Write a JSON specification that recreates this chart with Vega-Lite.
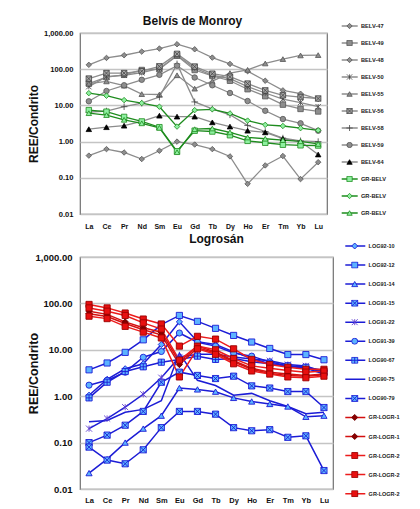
{
"$schema": "https://vega.github.io/schema/vega-lite/v6.json",
"background": "white",
"padding": {"left": 26, "top": 14, "right": 5, "bottom": 0},
"config": {"font": "Liberation Sans", "view": {"stroke": "#707070", "strokeWidth": 1.2}},
"spacing": 2,
"align": "none",
"center": true,
"resolve": {"scale": {"color": "independent", "shape": "independent", "fill": "independent", "stroke": "independent", "x": "independent", "y": "independent"}, "legend": {"color": "independent", "shape": "independent", "fill": "independent", "stroke": "independent"}},
"datasets": {
"belv": [
{"s":"BELV-47","e":"La","v":132},{"s":"BELV-47","e":"Ce","v":205},{"s":"BELV-47","e":"Pr","v":243},{"s":"BELV-47","e":"Nd","v":306},{"s":"BELV-47","e":"Sm","v":371},{"s":"BELV-47","e":"Eu","v":490},{"s":"BELV-47","e":"Gd","v":355},{"s":"BELV-47","e":"Tb","v":209},{"s":"BELV-47","e":"Dy","v":140},{"s":"BELV-47","e":"Ho","v":88},{"s":"BELV-47","e":"Er","v":48},{"s":"BELV-47","e":"Tm","v":26},{"s":"BELV-47","e":"Yb","v":21},{"s":"BELV-47","e":"Lu","v":15},
{"s":"BELV-49","e":"La","v":40},{"s":"BELV-49","e":"Ce","v":60},{"s":"BELV-49","e":"Pr","v":70},{"s":"BELV-49","e":"Nd","v":95},{"s":"BELV-49","e":"Sm","v":100},{"s":"BELV-49","e":"Eu","v":235},{"s":"BELV-49","e":"Gd","v":95},{"s":"BELV-49","e":"Tb","v":65},{"s":"BELV-49","e":"Dy","v":48},{"s":"BELV-49","e":"Ho","v":28},{"s":"BELV-49","e":"Er","v":18},{"s":"BELV-49","e":"Tm","v":10.5},{"s":"BELV-49","e":"Yb","v":8},{"s":"BELV-49","e":"Lu","v":6.8},
{"s":"BELV-48","e":"La","v":0.41},{"s":"BELV-48","e":"Ce","v":0.62},{"s":"BELV-48","e":"Pr","v":0.5},{"s":"BELV-48","e":"Nd","v":0.33},{"s":"BELV-48","e":"Sm","v":0.56},{"s":"BELV-48","e":"Eu","v":1.0},{"s":"BELV-48","e":"Gd","v":0.83},{"s":"BELV-48","e":"Tb","v":0.62},{"s":"BELV-48","e":"Dy","v":0.39},{"s":"BELV-48","e":"Ho","v":0.068},{"s":"BELV-48","e":"Er","v":0.22},{"s":"BELV-48","e":"Tm","v":0.4},{"s":"BELV-48","e":"Yb","v":0.092},{"s":"BELV-48","e":"Lu","v":0.27},
{"s":"BELV-50","e":"La","v":33},{"s":"BELV-50","e":"Ce","v":62},{"s":"BELV-50","e":"Pr","v":68},{"s":"BELV-50","e":"Nd","v":80},{"s":"BELV-50","e":"Sm","v":105},{"s":"BELV-50","e":"Eu","v":240},{"s":"BELV-50","e":"Gd","v":108},{"s":"BELV-50","e":"Tb","v":68},{"s":"BELV-50","e":"Dy","v":55},{"s":"BELV-50","e":"Ho","v":33},{"s":"BELV-50","e":"Er","v":22},{"s":"BELV-50","e":"Tm","v":15},{"s":"BELV-50","e":"Yb","v":12},{"s":"BELV-50","e":"Lu","v":9.2},
{"s":"BELV-55","e":"La","v":40},{"s":"BELV-55","e":"Ce","v":46},{"s":"BELV-55","e":"Pr","v":35},{"s":"BELV-55","e":"Nd","v":20.5},{"s":"BELV-55","e":"Sm","v":20},{"s":"BELV-55","e":"Eu","v":68},{"s":"BELV-55","e":"Gd","v":29},{"s":"BELV-55","e":"Tb","v":47},{"s":"BELV-55","e":"Dy","v":78},{"s":"BELV-55","e":"Ho","v":96},{"s":"BELV-55","e":"Er","v":144},{"s":"BELV-55","e":"Tm","v":190},{"s":"BELV-55","e":"Yb","v":240},{"s":"BELV-55","e":"Lu","v":245},
{"s":"BELV-56","e":"La","v":55},{"s":"BELV-56","e":"Ce","v":78},{"s":"BELV-56","e":"Pr","v":78},{"s":"BELV-56","e":"Nd","v":88},{"s":"BELV-56","e":"Sm","v":120},{"s":"BELV-56","e":"Eu","v":265},{"s":"BELV-56","e":"Gd","v":118},{"s":"BELV-56","e":"Tb","v":75},{"s":"BELV-56","e":"Dy","v":62},{"s":"BELV-56","e":"Ho","v":40},{"s":"BELV-56","e":"Er","v":26},{"s":"BELV-56","e":"Tm","v":19},{"s":"BELV-56","e":"Yb","v":17},{"s":"BELV-56","e":"Lu","v":15.5},
{"s":"BELV-58","e":"La","v":6.5},{"s":"BELV-58","e":"Ce","v":7},{"s":"BELV-58","e":"Pr","v":9.2},{"s":"BELV-58","e":"Nd","v":11.5},{"s":"BELV-58","e":"Sm","v":17},{"s":"BELV-58","e":"Eu","v":140},{"s":"BELV-58","e":"Gd","v":12.5},{"s":"BELV-58","e":"Tb","v":8},{"s":"BELV-58","e":"Dy","v":5.5},{"s":"BELV-58","e":"Ho","v":2.8},{"s":"BELV-58","e":"Er","v":1.9},{"s":"BELV-58","e":"Tm","v":1.25},{"s":"BELV-58","e":"Yb","v":1.05},{"s":"BELV-58","e":"Lu","v":1.0},
{"s":"BELV-59","e":"La","v":13},{"s":"BELV-59","e":"Ce","v":25},{"s":"BELV-59","e":"Pr","v":36},{"s":"BELV-59","e":"Nd","v":51},{"s":"BELV-59","e":"Sm","v":70},{"s":"BELV-59","e":"Eu","v":125},{"s":"BELV-59","e":"Gd","v":59},{"s":"BELV-59","e":"Tb","v":36},{"s":"BELV-59","e":"Dy","v":22},{"s":"BELV-59","e":"Ho","v":13.2},{"s":"BELV-59","e":"Er","v":7.1},{"s":"BELV-59","e":"Tm","v":4.2},{"s":"BELV-59","e":"Yb","v":3.2},{"s":"BELV-59","e":"Lu","v":2.0},
{"s":"BELV-64","e":"La","v":2.2},{"s":"BELV-64","e":"Ce","v":2.5},{"s":"BELV-64","e":"Pr","v":2.75},{"s":"BELV-64","e":"Nd","v":3.6},{"s":"BELV-64","e":"Sm","v":5.2},{"s":"BELV-64","e":"Eu","v":4.9},{"s":"BELV-64","e":"Gd","v":4.9},{"s":"BELV-64","e":"Tb","v":3.4},{"s":"BELV-64","e":"Dy","v":2.6},{"s":"BELV-64","e":"Ho","v":2.0},{"s":"BELV-64","e":"Er","v":1.8},{"s":"BELV-64","e":"Tm","v":1.2},{"s":"BELV-64","e":"Yb","v":1.0},{"s":"BELV-64","e":"Lu","v":0.44},
{"s":"GR-BELV|1","e":"La","v":7.4},{"s":"GR-BELV|1","e":"Ce","v":6.7},{"s":"GR-BELV|1","e":"Pr","v":4.8},{"s":"GR-BELV|1","e":"Nd","v":3.6},{"s":"GR-BELV|1","e":"Sm","v":2.5},{"s":"GR-BELV|1","e":"Eu","v":0.54},{"s":"GR-BELV|1","e":"Gd","v":2.0},{"s":"GR-BELV|1","e":"Tb","v":1.9},{"s":"GR-BELV|1","e":"Dy","v":1.5},{"s":"GR-BELV|1","e":"Ho","v":1.05},{"s":"GR-BELV|1","e":"Er","v":0.93},{"s":"GR-BELV|1","e":"Tm","v":0.82},{"s":"GR-BELV|1","e":"Yb","v":0.79},{"s":"GR-BELV|1","e":"Lu","v":0.78},
{"s":"GR-BELV|2","e":"La","v":21.8},{"s":"GR-BELV|2","e":"Ce","v":18.5},{"s":"GR-BELV|2","e":"Pr","v":14},{"s":"GR-BELV|2","e":"Nd","v":11.6},{"s":"GR-BELV|2","e":"Sm","v":9.2},{"s":"GR-BELV|2","e":"Eu","v":2.6},{"s":"GR-BELV|2","e":"Gd","v":7.4},{"s":"GR-BELV|2","e":"Tb","v":7.8},{"s":"GR-BELV|2","e":"Dy","v":6.0},{"s":"GR-BELV|2","e":"Ho","v":3.8},{"s":"GR-BELV|2","e":"Er","v":2.9},{"s":"GR-BELV|2","e":"Tm","v":2.7},{"s":"GR-BELV|2","e":"Yb","v":2.35},{"s":"GR-BELV|2","e":"Lu","v":2.05},
{"s":"GR-BELV|3","e":"La","v":6.1},{"s":"GR-BELV|3","e":"Ce","v":5.4},{"s":"GR-BELV|3","e":"Pr","v":4.0},{"s":"GR-BELV|3","e":"Nd","v":3.2},{"s":"GR-BELV|3","e":"Sm","v":2.4},{"s":"GR-BELV|3","e":"Eu","v":0.51},{"s":"GR-BELV|3","e":"Gd","v":2.2},{"s":"GR-BELV|3","e":"Tb","v":2.3},{"s":"GR-BELV|3","e":"Dy","v":1.8},{"s":"GR-BELV|3","e":"Ho","v":1.3},{"s":"GR-BELV|3","e":"Er","v":1.2},{"s":"GR-BELV|3","e":"Tm","v":1.1},{"s":"GR-BELV|3","e":"Yb","v":1.02},{"s":"GR-BELV|3","e":"Lu","v":0.86}
],
"logr": [
{"s":"LOG92-10","e":"La","v":1.05},{"s":"LOG92-10","e":"Ce","v":2.3},{"s":"LOG92-10","e":"Pr","v":3.9},{"s":"LOG92-10","e":"Nd","v":5.0},{"s":"LOG92-10","e":"Sm","v":13},{"s":"LOG92-10","e":"Eu","v":40},{"s":"LOG92-10","e":"Gd","v":15},{"s":"LOG92-10","e":"Tb","v":13},{"s":"LOG92-10","e":"Dy","v":9},{"s":"LOG92-10","e":"Ho","v":6.5},{"s":"LOG92-10","e":"Er","v":5},{"s":"LOG92-10","e":"Tm","v":4.5},{"s":"LOG92-10","e":"Yb","v":4.0},{"s":"LOG92-10","e":"Lu","v":3.0},
{"s":"LOG92-12","e":"La","v":3.7},{"s":"LOG92-12","e":"Ce","v":5.2},{"s":"LOG92-12","e":"Pr","v":8.8},{"s":"LOG92-12","e":"Nd","v":16.4},{"s":"LOG92-12","e":"Sm","v":35},{"s":"LOG92-12","e":"Eu","v":55},{"s":"LOG92-12","e":"Gd","v":41},{"s":"LOG92-12","e":"Tb","v":29},{"s":"LOG92-12","e":"Dy","v":20.4},{"s":"LOG92-12","e":"Ho","v":14.7},{"s":"LOG92-12","e":"Er","v":10.7},{"s":"LOG92-12","e":"Tm","v":7.9},{"s":"LOG92-12","e":"Yb","v":7.9},{"s":"LOG92-12","e":"Lu","v":6.1},
{"s":"LOG91-14","e":"La","v":0.022},{"s":"LOG91-14","e":"Ce","v":0.044},{"s":"LOG91-14","e":"Pr","v":0.1},{"s":"LOG91-14","e":"Nd","v":0.2},{"s":"LOG91-14","e":"Sm","v":0.38},{"s":"LOG91-14","e":"Eu","v":1.5},{"s":"LOG91-14","e":"Gd","v":1.4},{"s":"LOG91-14","e":"Tb","v":1.25},{"s":"LOG91-14","e":"Dy","v":0.92},{"s":"LOG91-14","e":"Ho","v":0.77},{"s":"LOG91-14","e":"Er","v":0.68},{"s":"LOG91-14","e":"Tm","v":0.6},{"s":"LOG91-14","e":"Yb","v":0.36},{"s":"LOG91-14","e":"Lu","v":0.38},
{"s":"LOG91-15","e":"La","v":0.1},{"s":"LOG91-15","e":"Ce","v":0.145},{"s":"LOG91-15","e":"Pr","v":0.237},{"s":"LOG91-15","e":"Nd","v":0.47},{"s":"LOG91-15","e":"Sm","v":2.0},{"s":"LOG91-15","e":"Eu","v":3.3},{"s":"LOG91-15","e":"Gd","v":2.8},{"s":"LOG91-15","e":"Tb","v":2.4},{"s":"LOG91-15","e":"Dy","v":2.7},{"s":"LOG91-15","e":"Ho","v":1.67},{"s":"LOG91-15","e":"Er","v":1.5},{"s":"LOG91-15","e":"Tm","v":1.26},{"s":"LOG91-15","e":"Yb","v":1.26},{"s":"LOG91-15","e":"Lu","v":0.57},
{"s":"LOG91-22","e":"La","v":0.2},{"s":"LOG91-22","e":"Ce","v":0.33},{"s":"LOG91-22","e":"Pr","v":0.58},{"s":"LOG91-22","e":"Nd","v":1.1},{"s":"LOG91-22","e":"Sm","v":2.5},{"s":"LOG91-22","e":"Eu","v":7},{"s":"LOG91-22","e":"Gd","v":8},{"s":"LOG91-22","e":"Tb","v":8},{"s":"LOG91-22","e":"Dy","v":7},{"s":"LOG91-22","e":"Ho","v":6.3},{"s":"LOG91-22","e":"Er","v":5.8},{"s":"LOG91-22","e":"Tm","v":4.8},{"s":"LOG91-22","e":"Yb","v":4.5},{"s":"LOG91-22","e":"Lu","v":3.3},
{"s":"LOG91-39","e":"La","v":1.73},{"s":"LOG91-39","e":"Ce","v":2.2},{"s":"LOG91-39","e":"Pr","v":3.3},{"s":"LOG91-39","e":"Nd","v":6.9},{"s":"LOG91-39","e":"Sm","v":9.2},{"s":"LOG91-39","e":"Eu","v":23},{"s":"LOG91-39","e":"Gd","v":14.6},{"s":"LOG91-39","e":"Tb","v":12},{"s":"LOG91-39","e":"Dy","v":8.5},{"s":"LOG91-39","e":"Ho","v":7.3},{"s":"LOG91-39","e":"Er","v":5.5},{"s":"LOG91-39","e":"Tm","v":4.5},{"s":"LOG91-39","e":"Yb","v":4.2},{"s":"LOG91-39","e":"Lu","v":3.6},
{"s":"LOG90-67","e":"La","v":0.92},{"s":"LOG90-67","e":"Ce","v":2.0},{"s":"LOG90-67","e":"Pr","v":3.4},{"s":"LOG90-67","e":"Nd","v":4.3},{"s":"LOG90-67","e":"Sm","v":5.4},{"s":"LOG90-67","e":"Eu","v":6.2},{"s":"LOG90-67","e":"Gd","v":7.3},{"s":"LOG90-67","e":"Tb","v":6.2},{"s":"LOG90-67","e":"Dy","v":6.5},{"s":"LOG90-67","e":"Ho","v":5.5},{"s":"LOG90-67","e":"Er","v":5.0},{"s":"LOG90-67","e":"Tm","v":4.5},{"s":"LOG90-67","e":"Yb","v":4.2},{"s":"LOG90-67","e":"Lu","v":3.2},
{"s":"LOG90-75","e":"La","v":0.28},{"s":"LOG90-75","e":"Ce","v":0.3},{"s":"LOG90-75","e":"Pr","v":0.45},{"s":"LOG90-75","e":"Nd","v":0.52},{"s":"LOG90-75","e":"Sm","v":0.8},{"s":"LOG90-75","e":"Eu","v":8.5},{"s":"LOG90-75","e":"Gd","v":2.2},{"s":"LOG90-75","e":"Tb","v":1.7},{"s":"LOG90-75","e":"Dy","v":1.05},{"s":"LOG90-75","e":"Ho","v":1.15},{"s":"LOG90-75","e":"Er","v":0.8},{"s":"LOG90-75","e":"Tm","v":0.6},{"s":"LOG90-75","e":"Yb","v":0.42},{"s":"LOG90-75","e":"Lu","v":0.45},
{"s":"LOG90-79","e":"La","v":0.08},{"s":"LOG90-79","e":"Ce","v":0.042},{"s":"LOG90-79","e":"Pr","v":0.035},{"s":"LOG90-79","e":"Nd","v":0.07},{"s":"LOG90-79","e":"Sm","v":0.21},{"s":"LOG90-79","e":"Eu","v":0.47},{"s":"LOG90-79","e":"Gd","v":0.47},{"s":"LOG90-79","e":"Tb","v":0.41},{"s":"LOG90-79","e":"Dy","v":0.21},{"s":"LOG90-79","e":"Ho","v":0.18},{"s":"LOG90-79","e":"Er","v":0.19},{"s":"LOG90-79","e":"Tm","v":0.13},{"s":"LOG90-79","e":"Yb","v":0.14},{"s":"LOG90-79","e":"Lu","v":0.025},
{"s":"GR-LOGR-1|1","e":"La","v":68},{"s":"GR-LOGR-1|1","e":"Ce","v":58},{"s":"GR-LOGR-1|1","e":"Pr","v":40},{"s":"GR-LOGR-1|1","e":"Nd","v":30},{"s":"GR-LOGR-1|1","e":"Sm","v":24},{"s":"GR-LOGR-1|1","e":"Eu","v":5.5},{"s":"GR-LOGR-1|1","e":"Gd","v":12},{"s":"GR-LOGR-1|1","e":"Tb","v":9},{"s":"GR-LOGR-1|1","e":"Dy","v":5.8},{"s":"GR-LOGR-1|1","e":"Ho","v":4.0},{"s":"GR-LOGR-1|1","e":"Er","v":3.3},{"s":"GR-LOGR-1|1","e":"Tm","v":3.0},{"s":"GR-LOGR-1|1","e":"Yb","v":2.8},{"s":"GR-LOGR-1|1","e":"Lu","v":3.0},
{"s":"GR-LOGR-1|2","e":"La","v":60},{"s":"GR-LOGR-1|2","e":"Ce","v":52},{"s":"GR-LOGR-1|2","e":"Pr","v":37},{"s":"GR-LOGR-1|2","e":"Nd","v":27},{"s":"GR-LOGR-1|2","e":"Sm","v":21},{"s":"GR-LOGR-1|2","e":"Eu","v":4.8},{"s":"GR-LOGR-1|2","e":"Gd","v":11},{"s":"GR-LOGR-1|2","e":"Tb","v":8.5},{"s":"GR-LOGR-1|2","e":"Dy","v":5.5},{"s":"GR-LOGR-1|2","e":"Ho","v":3.8},{"s":"GR-LOGR-1|2","e":"Er","v":3.1},{"s":"GR-LOGR-1|2","e":"Tm","v":2.8},{"s":"GR-LOGR-1|2","e":"Yb","v":2.7},{"s":"GR-LOGR-1|2","e":"Lu","v":2.9},
{"s":"GR-LOGR-2|1","e":"La","v":95},{"s":"GR-LOGR-2|1","e":"Ce","v":80},{"s":"GR-LOGR-2|1","e":"Pr","v":62},{"s":"GR-LOGR-2|1","e":"Nd","v":46},{"s":"GR-LOGR-2|1","e":"Sm","v":36},{"s":"GR-LOGR-2|1","e":"Eu","v":12},{"s":"GR-LOGR-2|1","e":"Gd","v":19.5},{"s":"GR-LOGR-2|1","e":"Tb","v":17},{"s":"GR-LOGR-2|1","e":"Dy","v":10.5},{"s":"GR-LOGR-2|1","e":"Ho","v":6.2},{"s":"GR-LOGR-2|1","e":"Er","v":4.8},{"s":"GR-LOGR-2|1","e":"Tm","v":4.2},{"s":"GR-LOGR-2|1","e":"Yb","v":3.8},{"s":"GR-LOGR-2|1","e":"Lu","v":3.8},
{"s":"GR-LOGR-2|2","e":"La","v":80},{"s":"GR-LOGR-2|2","e":"Ce","v":68},{"s":"GR-LOGR-2|2","e":"Pr","v":55},{"s":"GR-LOGR-2|2","e":"Nd","v":38},{"s":"GR-LOGR-2|2","e":"Sm","v":28},{"s":"GR-LOGR-2|2","e":"Eu","v":6},{"s":"GR-LOGR-2|2","e":"Gd","v":12},{"s":"GR-LOGR-2|2","e":"Tb","v":10},{"s":"GR-LOGR-2|2","e":"Dy","v":6.5},{"s":"GR-LOGR-2|2","e":"Ho","v":4.5},{"s":"GR-LOGR-2|2","e":"Er","v":4.0},{"s":"GR-LOGR-2|2","e":"Tm","v":3.6},{"s":"GR-LOGR-2|2","e":"Yb","v":3.3},{"s":"GR-LOGR-2|2","e":"Lu","v":3.5},
{"s":"GR-LOGR-2|3","e":"La","v":53},{"s":"GR-LOGR-2|3","e":"Ce","v":47},{"s":"GR-LOGR-2|3","e":"Pr","v":32},{"s":"GR-LOGR-2|3","e":"Nd","v":24},{"s":"GR-LOGR-2|3","e":"Sm","v":18},{"s":"GR-LOGR-2|3","e":"Eu","v":2.6},{"s":"GR-LOGR-2|3","e":"Gd","v":10.5},{"s":"GR-LOGR-2|3","e":"Tb","v":8},{"s":"GR-LOGR-2|3","e":"Dy","v":5},{"s":"GR-LOGR-2|3","e":"Ho","v":3.5},{"s":"GR-LOGR-2|3","e":"Er","v":3.0},{"s":"GR-LOGR-2|3","e":"Tm","v":2.6},{"s":"GR-LOGR-2|3","e":"Yb","v":2.5},{"s":"GR-LOGR-2|3","e":"Lu","v":2.7}
]
},
"vconcat": [
{
"width": 247, "height": 181,
"data": {"name": "belv"},
"title": {"text": "Belvís de Monroy", "fontSize": 12, "fontWeight": "bold", "font": "Liberation Sans", "color": "#111", "offset": -4.6, "dx": -11},
"encoding": {
"x": {"field": "e", "type": "ordinal", "sort": ["La","Ce","Pr","Nd","Sm","Eu","Gd","Tb","Dy","Ho","Er","Tm","Yb","Lu"], "scale": {"type": "point", "padding": 0.5},
"axis": {"title": null, "labelAngle": 0, "labelFontSize": 7, "labelFontWeight": "bold", "labelColor": "#111", "domain": false, "ticks": false, "labelPadding": 8, "grid": false}},
"y": {"field": "v", "type": "quantitative", "scale": {"type": "log", "domain": [0.01, 1000], "nice": false},
"axis": {"values": [0.01, 0.1, 1, 10, 100, 1000], "format": ",.2f", "title": "REE/Condrito", "titleFontSize": 12, "titleFontWeight": "bold", "titleColor": "#111", "titlePadding": 3, "labelFontSize": 7.6, "labelFontWeight": "bold", "labelColor": "#111", "labelPadding": 7, "ticks": false, "domain": false, "grid": true, "gridColor": "#c4c4c4", "gridWidth": 1.5}}
},
"layer": [
{"mark": {"type": "line", "strokeWidth": 1.3},
"encoding": {"color": {"field": "s", "type": "nominal",
"scale": {"domain": ["BELV-47","BELV-49","BELV-48","BELV-50","BELV-55","BELV-56","BELV-58","BELV-59","BELV-64","GR-BELV|1","GR-BELV|2","GR-BELV|3","~"],
"range": ["#8c8c8c","#8c8c8c","#8c8c8c","#8c8c8c","#8c8c8c","#8c8c8c","#8c8c8c","#8c8c8c","#8c8c8c","#1e8c1e","#1e8c1e","#1e8c1e","#ffffff"]},
"legend": {"orient": "none", "legendX": 260.7, "legendY": -10, "title": null, "values": ["BELV-47","BELV-49","BELV-48","BELV-50","BELV-55","BELV-56","BELV-58","BELV-59","BELV-64","GR-BELV|1","GR-BELV|2","GR-BELV|3"], "labelExpr": "''", "symbolType": "stroke", "symbolSize": 256, "symbolStrokeWidth": 1.3, "clipHeight": 6, "rowPadding": 11, "padding": 0, "labelFontSize": 5.7}}}},
{"mark": {"type": "point", "size": 30, "strokeWidth": 0.8, "opacity": 1},
"encoding": {
"shape": {"field": "s", "type": "nominal",
"scale": {"domain": ["BELV-47","BELV-49","BELV-48","BELV-50","BELV-55","BELV-56","BELV-58","BELV-59","BELV-64","GR-BELV|1","GR-BELV|2","GR-BELV|3"],
"range": ["diamond","square","diamond","M-1,-1L1,1M-1,1L1,-1M0,-1L0,1","triangle-up","M-1,-1H1V1H-1Z M-1,-1L1,1 M-1,1L1,-1","M-1.2,0H1.2M0,-1.2V1.2","circle","triangle-up","square","diamond","triangle-up"]},
"legend": {"orient": "none", "legendX": 266.05, "legendY": -10, "title": null, "labelExpr": "split(datum.label, '|')[0]", "labelFontSize": 5.7, "labelFontWeight": "bold", "labelColor": "#222", "symbolSize": 28, "symbolStrokeWidth": 0.8, "clipHeight": 6, "rowPadding": 11, "labelOffset": 7.9, "padding": 0, "labelLimit": 200}},
"fill": {"field": "s", "type": "nominal",
"scale": {"domain": ["BELV-47","BELV-49","BELV-48","BELV-50","BELV-55","BELV-56","BELV-58","BELV-59","BELV-64","GR-BELV|1","GR-BELV|2","GR-BELV|3"],
"range": ["#8e8e8e","#8e8e8e","#8e8e8e","transparent","#8e8e8e","#a8a8a8","transparent","#8e8e8e","#000000","#8ef0a0","#8ef0a0","#8ef0a0"]},
"legend": {"orient": "none", "legendX": 266.05, "legendY": -10, "title": null, "labelExpr": "split(datum.label, '|')[0]", "labelFontSize": 5.7, "labelFontWeight": "bold", "labelColor": "#222", "symbolSize": 28, "symbolStrokeWidth": 0.8, "clipHeight": 6, "rowPadding": 11, "labelOffset": 7.9, "padding": 0, "labelLimit": 200}},
"stroke": {"field": "s", "type": "nominal",
"scale": {"domain": ["BELV-47","BELV-49","BELV-48","BELV-50","BELV-55","BELV-56","BELV-58","BELV-59","BELV-64","GR-BELV|1","GR-BELV|2","GR-BELV|3"],
"range": ["#555555","#555555","#555555","#444444","#555555","#444444","#444444","#555555","#000000","#1e8c1e","#1e8c1e","#1e8c1e"]},
"legend": {"orient": "none", "legendX": 266.05, "legendY": -10, "title": null, "labelExpr": "split(datum.label, '|')[0]", "labelFontSize": 5.7, "labelFontWeight": "bold", "labelColor": "#222", "symbolSize": 28, "symbolStrokeWidth": 0.8, "clipHeight": 6, "rowPadding": 11, "labelOffset": 7.9, "padding": 0, "labelLimit": 200}}
}}
]
},
{
"width": 253, "height": 232,
"data": {"name": "logr"},
"title": {"text": "Logrosán", "fontSize": 12, "fontWeight": "bold", "font": "Liberation Sans", "color": "#111", "offset": -3.8, "dx": 10},
"encoding": {
"x": {"field": "e", "type": "ordinal", "sort": ["La","Ce","Pr","Nd","Sm","Eu","Gd","Tb","Dy","Ho","Er","Tm","Yb","Lu"], "scale": {"type": "point", "padding": 0.5},
"axis": {"title": null, "labelAngle": 0, "labelFontSize": 7.5, "labelFontWeight": "bold", "labelColor": "#111", "domain": false, "ticks": false, "labelPadding": 7, "grid": false}},
"y": {"field": "v", "type": "quantitative", "scale": {"type": "log", "domain": [0.01, 1000], "nice": false},
"axis": {"values": [0.01, 0.1, 1, 10, 100, 1000], "format": ",.2f", "title": "REE/Condrito", "titleFontSize": 12.5, "titleFontWeight": "bold", "titleColor": "#111", "titlePadding": -5, "labelFontSize": 9.5, "labelFontWeight": "bold", "labelColor": "#111", "labelPadding": 8, "ticks": false, "domain": false, "grid": true, "gridColor": "#c4c4c4", "gridWidth": 1.5}}
},
"layer": [
{"mark": {"type": "line", "strokeWidth": 1.5},
"encoding": {"color": {"field": "s", "type": "nominal",
"scale": {"domain": ["LOG92-10","LOG92-12","LOG91-14","LOG91-15","LOG91-22","LOG91-39","LOG90-67","LOG90-75","LOG90-79","GR-LOGR-1|1","GR-LOGR-1|2","GR-LOGR-2|1","GR-LOGR-2|2","GR-LOGR-2|3","~"],
"range": ["#1c1cd6","#1c1cd6","#1c1cd6","#1c1cd6","#1c1cd6","#1c1cd6","#1c1cd6","#1c1cd6","#1c1cd6","#d41010","#d41010","#ec1c1c","#ec1c1c","#ec1c1c","#ffffff"]},
"legend": {"orient": "none", "legendX": 264.3, "legendY": -14.5, "title": null, "values": ["LOG92-10","LOG92-12","LOG91-14","LOG91-15","LOG91-22","LOG91-39","LOG90-67","LOG90-75","LOG90-79","GR-LOGR-1|1","GR-LOGR-1|2","GR-LOGR-2|1","GR-LOGR-2|2","GR-LOGR-2|3"], "labelExpr": "''", "symbolType": "stroke", "symbolSize": 400, "symbolStrokeWidth": 1.5, "clipHeight": 7, "rowPadding": 12.05, "padding": 0, "labelFontSize": 5.5}}}},
{"mark": {"type": "point", "size": 38, "strokeWidth": 0.9, "opacity": 1},
"encoding": {
"shape": {"field": "s", "type": "nominal",
"scale": {"domain": ["LOG92-10","LOG92-12","LOG91-14","LOG91-15","LOG91-22","LOG91-39","LOG90-67","LOG90-75","LOG90-79","GR-LOGR-1|1","GR-LOGR-1|2","GR-LOGR-2|1","GR-LOGR-2|2","GR-LOGR-2|3"],
"range": ["diamond","square","triangle-up","M-1,-1H1V1H-1Z M-1,-1L1,1 M-1,1L1,-1","M-1,-1L1,1M-1,1L1,-1M0,-1L0,1","circle","M-1,-1H1V1H-1Z M-1,0H1 M0,-1V1","circle","M-1,-1H1V1H-1Z M-1,-1L1,1 M-1,1L1,-1","diamond","diamond","square","square","square"]},
"legend": {"orient": "none", "legendX": 271.2, "legendY": -14.5, "title": null, "labelExpr": "split(datum.label, '|')[0]", "labelFontSize": 5.5, "labelFontWeight": "bold", "labelColor": "#222", "symbolSize": 36, "symbolStrokeWidth": 0.9, "clipHeight": 7, "rowPadding": 12.05, "labelOffset": 10.4, "padding": 0, "labelLimit": 200}},
"fill": {"field": "s", "type": "nominal",
"scale": {"domain": ["LOG92-10","LOG92-12","LOG91-14","LOG91-15","LOG91-22","LOG91-39","LOG90-67","LOG90-75","LOG90-79","GR-LOGR-1|1","GR-LOGR-1|2","GR-LOGR-2|1","GR-LOGR-2|2","GR-LOGR-2|3"],
"range": ["#5cb3ff","#5cb3ff","#5cb3ff","#5cb3ff","transparent","#5cb3ff","#5cb3ff","transparent","#5cb3ff","#8b0000","#8b0000","#e81010","#e81010","#e81010"]},
"legend": {"orient": "none", "legendX": 271.2, "legendY": -14.5, "title": null, "labelExpr": "split(datum.label, '|')[0]", "labelFontSize": 5.5, "labelFontWeight": "bold", "labelColor": "#222", "symbolSize": 36, "symbolStrokeWidth": 0.9, "clipHeight": 7, "rowPadding": 12.05, "labelOffset": 10.4, "padding": 0, "labelLimit": 200}},
"stroke": {"field": "s", "type": "nominal",
"scale": {"domain": ["LOG92-10","LOG92-12","LOG91-14","LOG91-15","LOG91-22","LOG91-39","LOG90-67","LOG90-75","LOG90-79","GR-LOGR-1|1","GR-LOGR-1|2","GR-LOGR-2|1","GR-LOGR-2|2","GR-LOGR-2|3"],
"range": ["#1c1cd6","#1c1cd6","#1c1cd6","#1c1cd6","#6040d0","#1c1cd6","#1c1cd6","transparent","#1c1cd6","#700000","#700000","#9a0000","#9a0000","#9a0000"]},
"legend": {"orient": "none", "legendX": 271.2, "legendY": -14.5, "title": null, "labelExpr": "split(datum.label, '|')[0]", "labelFontSize": 5.5, "labelFontWeight": "bold", "labelColor": "#222", "symbolSize": 36, "symbolStrokeWidth": 0.9, "clipHeight": 7, "rowPadding": 12.05, "labelOffset": 10.4, "padding": 0, "labelLimit": 200}}
}}
]
}
]
}
